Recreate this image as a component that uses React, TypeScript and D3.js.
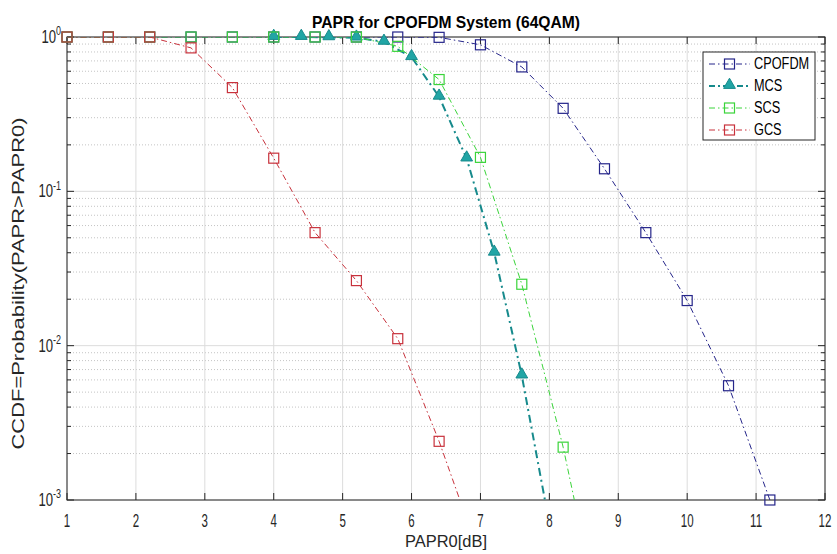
import React, { useRef, useEffect } from "react";
import * as d3 from "d3";

// PAPR0 [dB] sample points and CCDF values
const xCPOFDM = [1, 1.6, 2.2, 2.8, 3.4, 4.0, 4.6, 5.2, 5.8, 6.4, 7.0, 7.6, 8.2, 8.8, 9.4, 10.0, 10.6, 11.2];
const yCPOFDM = [1, 1, 1, 1, 1, 1, 1, 1, 1, 0.995, 0.89, 0.64, 0.345, 0.14, 0.054, 0.0196, 0.0055, 0.001];

const xMCS = [4.0, 4.4, 4.8, 5.2, 5.6, 6.0, 6.4, 6.8, 7.2, 7.6, 8.0];
const yMCS = [1, 1, 0.995, 0.99, 0.93, 0.74, 0.41, 0.163, 0.04, 0.0064, 0.0007];

const xSCS = [1, 1.6, 2.2, 2.8, 3.4, 4.0, 4.6, 5.2, 5.8, 6.4, 7.0, 7.6, 8.2, 8.8];
const ySCS = [1, 1, 1, 1, 1, 1, 1, 1, 0.87, 0.53, 0.166, 0.025, 0.0022, 0.00012];

const xGCS = [1, 1.6, 2.2, 2.8, 3.4, 4.0, 4.6, 5.2, 5.8, 6.4, 7.0];
const yGCS = [1, 1, 1, 0.85, 0.47, 0.164, 0.054, 0.0264, 0.0111, 0.0024, 0.00042];

const xTicks = [1, 2, 3, 4, 5, 6, 7, 8, 9, 10, 11, 12];
const yDecades = [0, -1, -2, -3];

const series = [
  { name: "CPOFDM", xs: xCPOFDM, ys: yCPOFDM, color: "#25258a", width: 1, marker: "square", fill: "none" },
  { name: "MCS", xs: xMCS, ys: yMCS, color: "#168a8c", width: 2, marker: "triangle", fill: "#21a5a5" },
  { name: "SCS", xs: xSCS, ys: ySCS, color: "#3ad43a", width: 1, marker: "square", fill: "none" },
  { name: "GCS", xs: xGCS, ys: yGCS, color: "#c8323c", width: 1, marker: "square", fill: "none" },
];

const FONT = "'Liberation Sans', Arial, sans-serif";

const App = () => {
  const svgRef = useRef(null);

  useEffect(() => {
    const width = 837;
    const height = 554;
    const m = { left: 67, right: 825, top: 37, bottom: 500 };

    const svg = d3.select(svgRef.current).attr("width", width).attr("height", height);
    svg.selectAll("*").remove();
    svg.append("rect").attr("width", width).attr("height", height).attr("fill", "#fff");

    const x = d3.scaleLinear().domain([1, 12]).range([m.left, m.right]);
    const y = d3.scaleLog().domain([1e-3, 1]).range([m.bottom, m.top]);

    svg.append("defs").append("clipPath").attr("id", "plotClip")
      .append("rect")
      .attr("x", m.left).attr("y", m.top)
      .attr("width", m.right - m.left).attr("height", m.bottom - m.top);

    const grid = svg.append("g");
    // minor horizontal grid (dotted)
    const minors = [];
    yDecades.slice(1).forEach(p => {
      for (let k = 2; k <= 9; k++) minors.push(k * Math.pow(10, p));
    });
    grid.selectAll(".minor").data(minors).enter().append("line")
      .attr("x1", m.left).attr("x2", m.right)
      .attr("y1", d => y(d)).attr("y2", d => y(d))
      .attr("stroke", "#c4c4c4").attr("stroke-width", 1)
      .attr("stroke-dasharray", "1,2");
    // major grid
    grid.selectAll(".vmaj").data(xTicks).enter().append("line")
      .attr("x1", d => x(d)).attr("x2", d => x(d))
      .attr("y1", m.top).attr("y2", m.bottom)
      .attr("stroke", "#dcdcdc").attr("stroke-width", 1);
    grid.selectAll(".hmaj").data(yDecades).enter().append("line")
      .attr("x1", m.left).attr("x2", m.right)
      .attr("y1", d => y(Math.pow(10, d))).attr("y2", d => y(Math.pow(10, d)))
      .attr("stroke", "#dcdcdc").attr("stroke-width", 1);

    // axis box and ticks
    const axis = svg.append("g").attr("stroke", "#262626").attr("stroke-width", 1);
    axis.append("rect")
      .attr("x", m.left).attr("y", m.top)
      .attr("width", m.right - m.left).attr("height", m.bottom - m.top)
      .attr("fill", "none");
    xTicks.forEach(t => {
      axis.append("line").attr("x1", x(t)).attr("x2", x(t)).attr("y1", m.bottom).attr("y2", m.bottom - 7);
      axis.append("line").attr("x1", x(t)).attr("x2", x(t)).attr("y1", m.top).attr("y2", m.top + 7);
    });
    yDecades.forEach(p => {
      const yy = y(Math.pow(10, p));
      axis.append("line").attr("x1", m.left).attr("x2", m.left + 7).attr("y1", yy).attr("y2", yy);
      axis.append("line").attr("x1", m.right).attr("x2", m.right - 7).attr("y1", yy).attr("y2", yy);
    });
    minors.forEach(v => {
      const yy = y(v);
      axis.append("line").attr("x1", m.left).attr("x2", m.left + 4).attr("y1", yy).attr("y2", yy);
      axis.append("line").attr("x1", m.right).attr("x2", m.right - 4).attr("y1", yy).attr("y2", yy);
    });

    // tick labels
    xTicks.forEach(t => {
      svg.append("text")
        .attr("transform", `translate(${x(t)},${m.bottom + 27}) scale(0.72,1.15)`)
        .attr("text-anchor", "middle")
        .attr("font-family", FONT).attr("font-size", 16).attr("fill", "#262626")
        .text(t);
    });
    yDecades.forEach(p => {
      const t = svg.append("text")
        .attr("transform", `translate(${m.left - 6},${y(Math.pow(10, p)) + 6}) scale(0.82,1.12)`)
        .attr("text-anchor", "end")
        .attr("font-family", FONT).attr("font-size", 16).attr("fill", "#262626");
      t.append("tspan").text("10");
      t.append("tspan").attr("dy", -7).attr("font-size", 11).text(p);
    });

    // labels and title
    svg.append("text")
      .attr("x", 446).attr("y", 28)
      .attr("text-anchor", "middle")
      .attr("font-family", FONT).attr("font-size", 17).attr("font-weight", "bold")
      .attr("fill", "#000")
      .attr("textLength", 268).attr("lengthAdjust", "spacingAndGlyphs")
      .text("PAPR for CPOFDM System (64QAM)");
    svg.append("text")
      .attr("x", 446).attr("y", 547)
      .attr("text-anchor", "middle")
      .attr("font-family", FONT).attr("font-size", 17).attr("fill", "#262626")
      .attr("textLength", 82).attr("lengthAdjust", "spacingAndGlyphs")
      .text("PAPR0[dB]");
    svg.append("text")
      .attr("transform", `translate(24,${(m.top + m.bottom) / 2 + 15}) rotate(-90)`)
      .attr("text-anchor", "middle")
      .attr("font-family", FONT).attr("font-size", 16).attr("fill", "#262626")
      .attr("textLength", 332).attr("lengthAdjust", "spacingAndGlyphs")
      .text("CCDF=Probability(PAPR>PAPR0)");

    // curves (lines clipped to the axes, markers drawn on top unclipped)
    const line = d3.line().x(d => x(d[0])).y(d => y(d[1]));
    const plot = svg.append("g").attr("clip-path", "url(#plotClip)");
    const marks = svg.append("g");
    const tri = d3.symbol().type(d3.symbolTriangle).size(60);

    const drawMarker = (g, s, px, py) => {
      if (s.marker === "square") {
        g.append("rect")
          .attr("x", px - 5).attr("y", py - 5)
          .attr("width", 10).attr("height", 10)
          .attr("fill", "none").attr("stroke", s.color).attr("stroke-width", 1.2);
      } else {
        g.append("path")
          .attr("d", tri())
          .attr("transform", `translate(${px},${py - 1})`)
          .attr("fill", s.fill).attr("stroke", s.color).attr("stroke-width", 1);
      }
    };

    series.forEach(s => {
      const pts = s.xs.map((v, i) => [v, s.ys[i]]);
      const dash = s.width > 1 ? "8,4,2,4" : "6,3,1.5,3";
      plot.append("path")
        .attr("d", line(pts))
        .attr("fill", "none")
        .attr("stroke", s.color)
        .attr("stroke-width", s.width)
        .attr("stroke-dasharray", dash);
      pts.filter(p => p[1] >= 1e-3).forEach(p => drawMarker(marks, s, x(p[0]), y(p[1])));
    });

    // legend
    const lg = svg.append("g");
    lg.append("rect")
      .attr("x", 703).attr("y", 52).attr("width", 112).attr("height", 88)
      .attr("fill", "#fff").attr("stroke", "#262626").attr("stroke-width", 1);
    series.forEach((s, i) => {
      const yy = 64 + i * 22;
      lg.append("line")
        .attr("x1", 709).attr("x2", 750).attr("y1", yy).attr("y2", yy)
        .attr("stroke", s.color).attr("stroke-width", s.width)
        .attr("stroke-dasharray", s.width > 1 ? "6,3,2,3" : "6,3,1.5,3");
      drawMarker(lg, s, 729.5, yy);
      lg.append("text")
        .attr("transform", `translate(754,${yy + 5}) scale(0.85,1.1)`)
        .attr("font-family", FONT).attr("font-size", 15).attr("fill", "#000")
        .text(s.name);
    });
  }, []);

  return <svg ref={svgRef} style={{ position: "absolute", left: 0, top: 0 }}></svg>;
};

export default App;
